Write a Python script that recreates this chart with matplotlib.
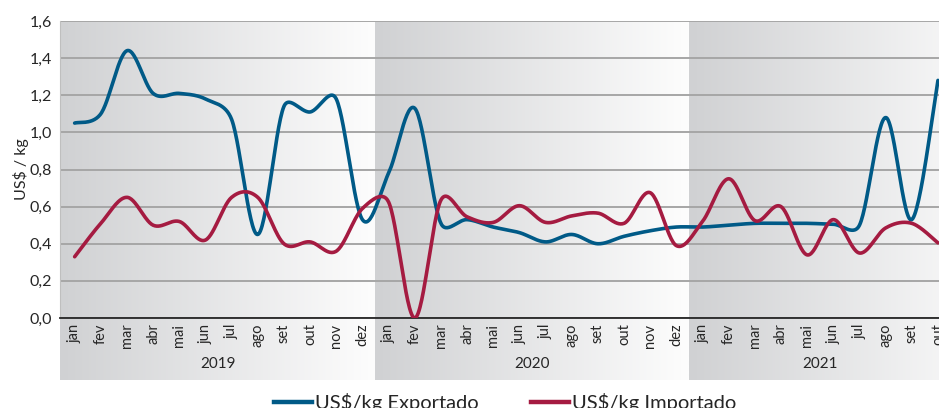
import numpy as np
import matplotlib
matplotlib.use("Agg")
import matplotlib.pyplot as plt
from matplotlib.lines import Line2D
from matplotlib.ticker import FuncFormatter
from matplotlib.colors import LinearSegmentedColormap

months = ["jan", "fev", "mar", "abr", "mai", "jun", "jul", "ago", "set", "out", "nov", "dez"] * 2 + \
         ["jan", "fev", "mar", "abr", "mai", "jun", "jul", "ago", "set", "out"]
years = ["2019", "2020", "2021"]

exportado = [1.05, 1.10, 1.44, 1.21, 1.21, 1.18, 1.07, 0.45, 1.14, 1.11, 1.18, 0.53,
             0.78, 1.13, 0.51, 0.53, 0.49, 0.46, 0.41, 0.45, 0.40, 0.44, 0.47, 0.49,
             0.49, 0.50, 0.51, 0.51, 0.51, 0.505, 0.50, 1.08, 0.53, 1.28]
importado = [0.33, 0.51, 0.65, 0.50, 0.52, 0.42, 0.65, 0.65, 0.40, 0.41, 0.36, 0.59,
             0.625, 0.00, 0.635, 0.545, 0.515, 0.605, 0.515, 0.55, 0.565, 0.51, 0.675, 0.39,
             0.52, 0.75, 0.525, 0.60, 0.34, 0.53, 0.35, 0.485, 0.51, 0.405]

BLUE = "#005a87"
RED = "#a51b41"
FONT = ["Lato", "DejaVu Sans"]
plt.rcParams["font.family"] = FONT

PX_X = 26.15   # pixels per month
PX_Y = 185.6   # pixels per 1.0 on y


def smooth(y, n=30):
    y = np.asarray(y, float)
    x = np.arange(len(y), dtype=float)
    P = np.column_stack([x * PX_X, y * PX_Y])
    xs, ys = [], []
    for i in range(len(y) - 1):
        p0 = P[i - 1] if i > 0 else P[i]
        p1 = P[i]
        p2 = P[i + 1]
        p3 = P[i + 2] if i + 2 < len(y) else P[i + 1]
        d12 = np.linalg.norm(p2 - p1)
        d02 = np.linalg.norm(p2 - p0)
        d13 = np.linalg.norm(p3 - p1)
        f0 = 1 / 6
        f3 = 1 / 6
        if d02 / 6 >= d12 / 2 and d02 > 0:
            f0 = d12 / 2 / d02
        if d13 / 6 >= d12 / 2 and d13 > 0:
            f3 = d12 / 2 / d13
        c1 = p1 + (p2 - p0) * f0
        c2 = p2 - (p3 - p1) * f3
        t = np.linspace(0, 1, n, endpoint=(i == len(y) - 2))[:, None]
        b = (1 - t) ** 3 * p1 + 3 * (1 - t) ** 2 * t * c1 + 3 * (1 - t) * t ** 2 * c2 + t ** 3 * p2
        xs.append(b[:, 0] / PX_X)
        ys.append(b[:, 1] / PX_Y)
    return np.concatenate(xs), np.concatenate(ys)


fig = plt.figure(figsize=(9.39, 4.08), dpi=100)
XL = (-0.56, 33.04)

# background bands (extend below the axis, behind tick labels)
bg = fig.add_axes([60 / 939, (408 - 380) / 408, 1 - 60 / 939, (380 - 21) / 408], zorder=0)
bg.axis("off")
band_edges = [(XL[0], 11.5), (11.5, 23.5), (23.5, 35.5)]
grad = np.linspace(0, 1, 256).reshape(1, -1)
cmap = LinearSegmentedColormap.from_list("g", ["#d0d1d3", "#fdfdfd"])
for a, b in band_edges:
    bg.imshow(grad, extent=[a, b, 0, 1], aspect="auto", cmap=cmap, interpolation="bilinear")
bg.set_xlim(*XL)
bg.set_ylim(0, 1)

ax = fig.add_axes([60 / 939, (408 - 318) / 408, 1 - 60 / 939, (318 - 21) / 408], zorder=1)
ax.patch.set_alpha(0)
ax.set_ylim(0, 1.6)
ax.set_yticks(np.arange(0, 1.61, 0.2))
ax.yaxis.set_major_formatter(FuncFormatter(lambda v, p: f"{v:.1f}".replace(".", ",")))
ax.grid(axis="y", color="#a6a6a6", linewidth=1.4, zorder=0)
for s in ["top", "right"]:
    ax.spines[s].set_visible(False)
ax.spines["left"].set_color("#bfbfbf")
ax.spines["left"].set_linewidth(0.8)
ax.spines["bottom"].set_color("#262626")
ax.spines["bottom"].set_linewidth(1.3)
ax.tick_params(axis="y", length=0, labelsize=11.5, colors="#262626", pad=6)
ax.set_xticks(range(len(months)))
ax.set_xticklabels(months, rotation=90, fontsize=10.5, color="#262626")
ax.tick_params(axis="x", length=0, pad=4)
ax.set_ylabel("US$ / kg", fontsize=11.5, color="#262626", labelpad=0)

xe, ye = smooth(exportado)
xi, yi = smooth(importado)
ax.plot(xe, ye, color=BLUE, lw=2.6, solid_capstyle="round", zorder=3)
ax.plot(xi, yi, color=RED, lw=2.6, solid_capstyle="round", zorder=4)
ax.set_xlim(*XL)

# year labels
year_centers = [5.5, 17.5, (24 + 33) / 2]
for yr, xc in zip(years, year_centers):
    ax.text(xc, -0.155, yr, transform=ax.get_xaxis_transform(), ha="center", va="center",
            fontsize=11, color="#262626")

handles = [Line2D([], [], color=BLUE, lw=3.2), Line2D([], [], color=RED, lw=3.2)]
fig.legend(handles, ["US$/kg Exportado", "US$/kg Importado"], loc="center",
           bbox_to_anchor=(0.538, 1 - 403 / 408), ncol=2, frameon=False, fontsize=14.5,
           handlelength=1.9, handletextpad=0.15, columnspacing=2.6, labelcolor="#262626")

fig.savefig("out.png", dpi=100)
